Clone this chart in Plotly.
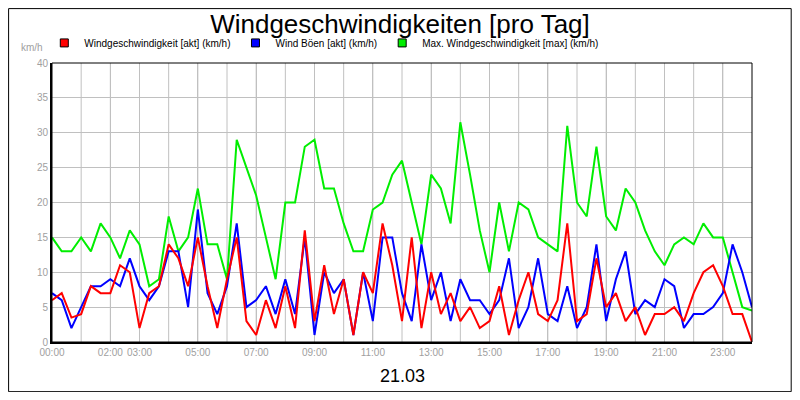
import plotly.graph_objects as go

# values every 20 minutes, 00:00 .. 24:00 (73 points)
wind_max = [15, 13, 13, 15, 13, 17, 15, 12, 16, 14, 8, 9, 18, 13, 15, 22, 14, 14, 9, 29,
            25, 21, 15, 9, 20, 20, 28, 29, 22, 22, 17, 13, 13, 19, 20, 24, 26, 20, 14, 24,
            22, 17, 31.5, 24, 16, 10, 20, 13, 20, 19, 15, 14, 13, 31, 20, 18, 28, 18, 16, 22,
            20, 16, 13, 11, 14, 15, 14, 17, 15, 15, 10, 5, 4.5]
wind_akt = [6, 7, 3.5, 4, 8, 7, 7, 11, 10, 2, 7, 8, 14, 12, 8, 15, 8, 2, 9, 15,
            3, 1, 6, 2, 8, 2, 16, 3, 11, 4, 9, 1, 10, 7, 17, 11, 3, 15, 2, 10,
            4, 7, 3, 5, 2, 3, 8, 1, 6, 10, 4, 3, 6, 17, 3, 4, 12, 5, 7, 3,
            5, 1, 4, 4, 5, 3, 7, 10, 11, 8, 4, 4, 0]
wind_boen = [7, 6, 2, 5, 8, 8, 9, 8, 12, 8, 6, 8, 13, 13, 5, 19, 7, 4, 8, 17,
             5, 6, 8, 4, 9, 4, 15, 1, 10, 7, 9, 1, 10, 3, 15, 15, 7, 3, 14, 6,
             10, 3, 9, 6, 6, 4, 6, 12, 2, 5, 12, 4, 3, 8, 2, 5, 14, 3, 9, 13,
             4, 6, 5, 9, 8, 2, 4, 4, 5, 7, 14, 10, 5]
hours = [i / 3 for i in range(len(wind_max))]

tick_vals = [0, 2, 3, 5, 7, 9, 11, 13, 15, 17, 19, 21, 23]
tick_text = [f"{h:02d}:00" for h in tick_vals]

series = [
    ("Max. Windgeschwindigkeit [max] (km/h)", wind_max, "#00ee00"),
    ("Wind Böen [akt] (km/h)", wind_boen, "#0000ff"),
    ("Windgeschwindigkeit [akt] (km/h)", wind_akt, "#ff0000"),
]

fig = go.Figure()
for name, vals, col in series:
    fig.add_trace(go.Scatter(x=hours, y=vals, name=name, mode="lines",
                             line=dict(color=col, width=2), showlegend=False))
# legend entries as small squares
for name, vals, col in reversed(series):
    fig.add_trace(go.Scatter(x=[None], y=[None], name=name, mode="markers",
                             marker=dict(symbol="square", size=8, color=col,
                                         line=dict(color="black", width=1))))

fig.update_layout(
    width=784, height=384,
    margin=dict(l=44, r=40, t=55, b=50, autoexpand=False),
    paper_bgcolor="white", plot_bgcolor="white",
    font=dict(family="Liberation Sans, Arial", size=10, color="black"),
    title=dict(text="Windgeschwindigkeiten [pro Tag]", x=0.5, y=0.982, yanchor="top",
               font=dict(size=26)),
    showlegend=True,
    legend=dict(orientation="h", x=-0.011, y=1.072, xanchor="left", yanchor="middle",
                font=dict(size=10), itemwidth=30),
    xaxis=dict(range=[0, 24], tickvals=tick_vals, ticktext=tick_text,
               showgrid=True, gridcolor="#c0c0c0",
               tickfont=dict(color="#a0a0a0", size=10), showline=True, linecolor="black",
               linewidth=2, zeroline=False),
    yaxis=dict(range=[0, 40], dtick=5, showgrid=True, gridcolor="#c0c0c0",
               tickfont=dict(color="#a0a0a0", size=10), showline=True, linecolor="black",
               linewidth=2, zeroline=False),
    shapes=[
        dict(type="rect", xref="paper", yref="paper", x0=0, x1=1, y0=0, y1=1,
             line=dict(color="black", width=1)),
        dict(type="rect", xref="paper", yref="paper", x0=-0.062, x1=1.056, y0=-0.178, y1=1.195,
             line=dict(color="black", width=1)),
    ] + [dict(type="line", xref="x", yref="paper", x0=h, x1=h, y0=0, y1=1,
              line=dict(color="#c0c0c0", width=1), layer="below") for h in range(1, 24)],
    annotations=[
        dict(text="km/h", xref="paper", yref="paper", x=-0.01, y=1.03, xanchor="right",
             yanchor="bottom", showarrow=False, font=dict(color="#a0a0a0", size=10)),
        dict(text="21.03", xref="paper", yref="paper", x=0.5, y=-0.08, yanchor="top",
             showarrow=False, font=dict(size=18)),
    ],
)

fig.write_html("out.html")
